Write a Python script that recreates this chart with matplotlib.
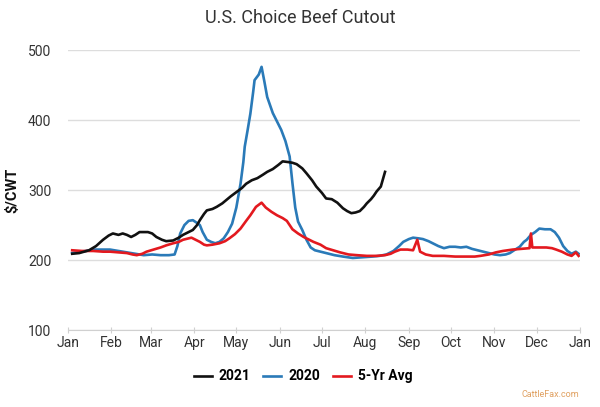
import matplotlib
matplotlib.use('Agg')
import matplotlib.pyplot as plt

# day of year (0 = Jan 1) and $/CWT values
days_2021 = [3, 8, 15, 20, 25, 29, 32, 36, 39, 42, 45, 48, 51, 57, 60, 63, 67, 70,
             75, 79, 82, 86, 89, 92, 94, 97, 99, 103, 106, 110, 113, 116, 120, 124,
             127, 131, 135, 139, 142, 146, 150, 153, 157, 160, 163, 167, 170, 174,
             177, 181, 184, 188, 192, 196, 199, 202, 205, 208, 211, 213, 216, 218,
             220, 223, 226]
vals_2021 = [209, 210, 214, 220, 229, 235, 238, 236, 238, 236, 233, 236, 240, 240,
             238, 233, 229, 227, 228, 232, 236, 240, 243, 250, 257, 266, 271, 273,
             276, 281, 286, 291, 297, 303, 309, 314, 317, 322, 326, 330, 336, 341,
             340, 339, 337, 331, 324, 314, 305, 296, 288, 287, 282, 274, 270, 267,
             268, 270, 276, 281, 287, 292, 298, 305, 326]

days_2020 = [3, 10, 18, 25, 30, 36, 42, 48, 54, 60, 66, 72, 76, 78, 80, 83, 86, 89,
             92, 94, 96, 99, 102, 105, 108, 111, 114, 117, 120, 123, 125, 126, 128,
             130, 132, 133, 136, 138, 140, 142, 146, 149, 152, 155, 158, 160, 162,
             164, 167, 170, 173, 176, 180, 184, 190, 196, 203, 210, 217, 222, 227,
             232, 236, 239, 243, 246, 250, 253, 257, 260, 264, 268, 272, 276, 280,
             284, 288, 292, 296, 300, 304, 308, 312, 315, 318, 322, 325, 327, 330,
             333, 336, 340, 344, 347, 350, 353, 356, 359, 362, 364]
vals_2020 = [210, 212, 215, 215, 215, 213, 211, 209, 207, 208, 207, 207, 208, 220,
             238, 250, 256, 257, 253, 250, 240, 229, 226, 224, 226, 231, 240, 252,
             275, 309, 340, 362, 385, 409, 440, 457, 465, 476, 455, 433, 410, 398,
             386, 370, 348, 310, 275, 255, 243, 229, 218, 214, 212, 210, 207, 205,
             203, 204, 205, 206, 208, 213, 220, 226, 230, 232, 231, 230, 227, 224,
             220, 217, 219, 219, 218, 219, 216, 214, 212, 210, 208, 207, 208, 210,
             214, 219, 226, 229, 236, 240, 245, 244, 244, 240, 232, 220, 213, 209,
             212, 209]

days_avg = [3, 10, 18, 25, 30, 36, 42, 46, 49, 53, 56, 61, 66, 70, 75, 79, 82, 86,
            88, 91, 94, 97, 99, 103, 108, 112, 115, 119, 123, 127, 130, 134, 138,
            141, 145, 149, 153, 156, 160, 164, 168, 172, 175, 180, 184, 189, 194,
            200, 206, 213, 220, 226, 230, 233, 237, 242, 246, 249, 251, 255, 260,
            268, 276, 284, 290, 294, 300, 305, 310, 317, 323, 329, 330, 331, 336,
            341, 345, 348, 352, 356, 359, 362, 364]
vals_avg = [214, 213, 213, 212, 212, 211, 210, 208, 207, 209, 212, 215, 218, 221,
            224, 226, 229, 231, 232, 229, 226, 222, 221, 222, 224, 227, 231, 237,
            245, 256, 264, 276, 282, 275, 269, 264, 260, 256, 244, 238, 233, 229,
            226, 222, 217, 214, 211, 208, 207, 206, 206, 207, 209, 212, 215, 215,
            214, 229, 212, 208, 206, 206, 205, 205, 205, 206, 208, 211, 213, 215,
            216, 217, 238, 218, 218, 218, 217, 215, 212, 208, 206, 211, 206]

month_days = [0, 31, 59, 90, 120, 151, 181, 212, 243, 273, 304, 334, 365]
month_labels = ['Jan', 'Feb', 'Mar', 'Apr', 'May', 'Jun', 'Jul', 'Aug', 'Sep',
                'Oct', 'Nov', 'Dec', 'Jan']

plt.rcParams['font.family'] = ['Roboto', 'DejaVu Sans']

fig = plt.figure(figsize=(6.0, 4.07), dpi=100)
ax = fig.add_axes([0.1133, 0.189, 0.8534, 0.688])

ax.plot(days_2021, vals_2021, color='#111111', lw=1.9, label='2021', zorder=4)
ax.plot(days_2020, vals_2020, color='#2a7ab8', lw=1.9, label='2020', zorder=2)
ax.plot(days_avg, vals_avg, color='#e3191f', lw=1.9, label='5-Yr Avg', zorder=3)

ax.set_xlim(0, 365)
ax.set_ylim(100, 500)
ax.set_yticks([100, 200, 300, 400, 500])
ax.set_xticks(month_days)
ax.set_xticklabels(month_labels)
ax.grid(axis='y', color='#dddddd', lw=1.0)
ax.set_axisbelow(True)
for s in ('top', 'right', 'left'):
    ax.spines[s].set_visible(False)
ax.spines['bottom'].set_color('#d0d0d0')
ax.tick_params(axis='x', colors='#d0d0d0', labelcolor='#333333', length=5,
               direction='inout', labelsize=10, pad=2)
ax.tick_params(axis='y', length=0, labelcolor='#333333', labelsize=10, pad=12)
ax.set_ylabel('$/CWT', fontsize=10.5, fontweight='bold', color='#111111', labelpad=6)

fig.text(0.5, 0.955, 'U.S. Choice Beef Cutout', ha='center', va='center',
         fontsize=13, color='#333333')
leg = fig.legend(loc='center', bbox_to_anchor=(0.505, 0.075), ncol=3, frameon=False,
                 prop={'weight': 'bold', 'size': 10}, handlelength=1.3,
                 columnspacing=0.9, handletextpad=0.5)
fig.text(0.965, 0.03, 'CattleFax.com', ha='right', va='center', fontsize=6.5,
         color='#e0a060')

fig.savefig('out.png', dpi=100)
